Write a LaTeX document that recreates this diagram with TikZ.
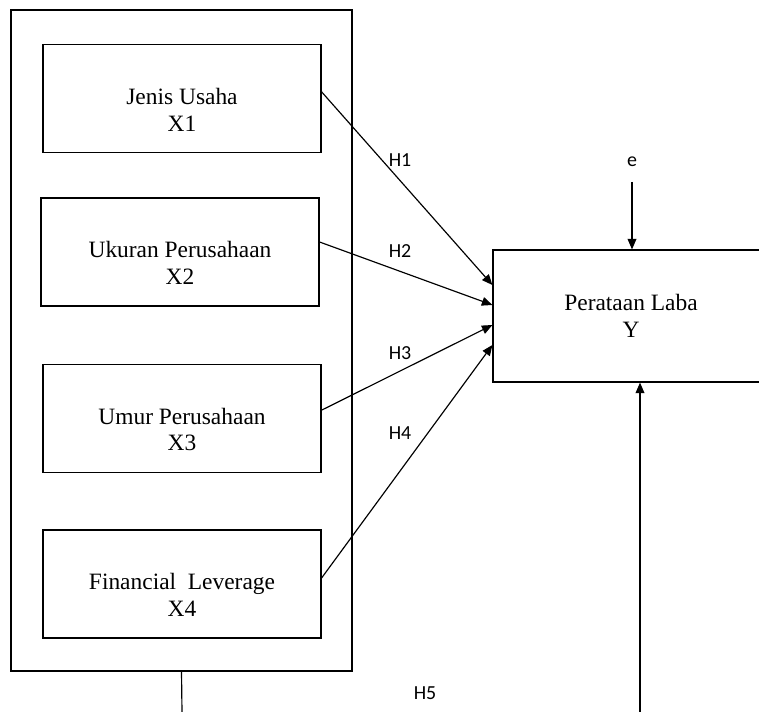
\documentclass[tikz,border=0pt]{standalone}
\usepackage{fontspec}
\setmainfont{Liberation Serif}
\newfontfamily\hfont{Carlito}
\usetikzlibrary{positioning, arrows.meta, calc}

\tikzset{
  varbox/.style={draw, line width=1pt, minimum width=8.34cm, minimum height=3.24cm, inner sep=0pt},
  vartext/.style={align=center, font=\fontsize{20}{23}\selectfont},
  hlabel/.style={font=\hfont\fontsize{17}{20}\selectfont},
  link/.style={line width=1pt, -{Triangle[length=9pt,width=7.5pt]}}
}

\begin{document}
\begin{tikzpicture}[x=0.03cm, y=-0.03cm]
\useasboundingbox (0,0) rectangle (759,712);
\clip (0,0) rectangle (759,712);
% kotak luar
\node[draw, line width=1pt, minimum width=10.23cm, minimum height=19.83cm] (outer) at (181.5,340.5) {};
% variabel X
\node[varbox, label={[vartext, yshift=-0.33cm]center:Jenis Usaha\\X1}] (x1) at (182,98.5) {};
\node[varbox, label={[vartext, yshift=-0.33cm]center:Ukuran Perusahaan\\X2}] (x2) at (180,252) {};
\node[varbox, label={[vartext, yshift=-0.33cm]center:Umur Perusahaan\\X3}] (x3) at (182,418.5) {};
\node[varbox, label={[vartext, yshift=-0.33cm]center:Financial\ \ Leverage\\X4}] (x4) at (182,584) {};
% variabel Y
\node[draw, line width=1pt, minimum width=8.28cm, minimum height=3.96cm, vartext] (y) at (631,316) {Perataan Laba\\Y};
% panah H1 - H4
\draw[link] ([yshift=0.2cm]x1.east) -- ([yshift=0.93cm]y.west);
\draw[link] ([yshift=0.3cm]x2.east) -- ([yshift=0.33cm]y.west);
\draw[link] ([yshift=0.25cm]x3.east) -- ([yshift=-0.27cm]y.west);
\draw[link] ([yshift=0.18cm]x4.east) -- ([yshift=-0.87cm]y.west);
\node[hlabel] (h1) at (400,160) {H1};
\node[hlabel] (h2) at (400,251) {H2};
\node[hlabel] (h3) at (400,353) {H3};
\node[hlabel] (h4) at (400,433) {H4};
% error
\node[hlabel] (e) at (632,162) {e};
\coordinate (etail) at (632,182);
\draw[link] (etail) -- (etail |- y.north);
% H5
\coordinate (bl) at (182,712);
\draw[line width=1pt] (outer.south) -- (bl);
\coordinate (br) at (640,712);
\draw[link] (br) -- (br |- y.south);
\node[hlabel] (h5) at (425,693) {H5};
\end{tikzpicture}
\end{document}
